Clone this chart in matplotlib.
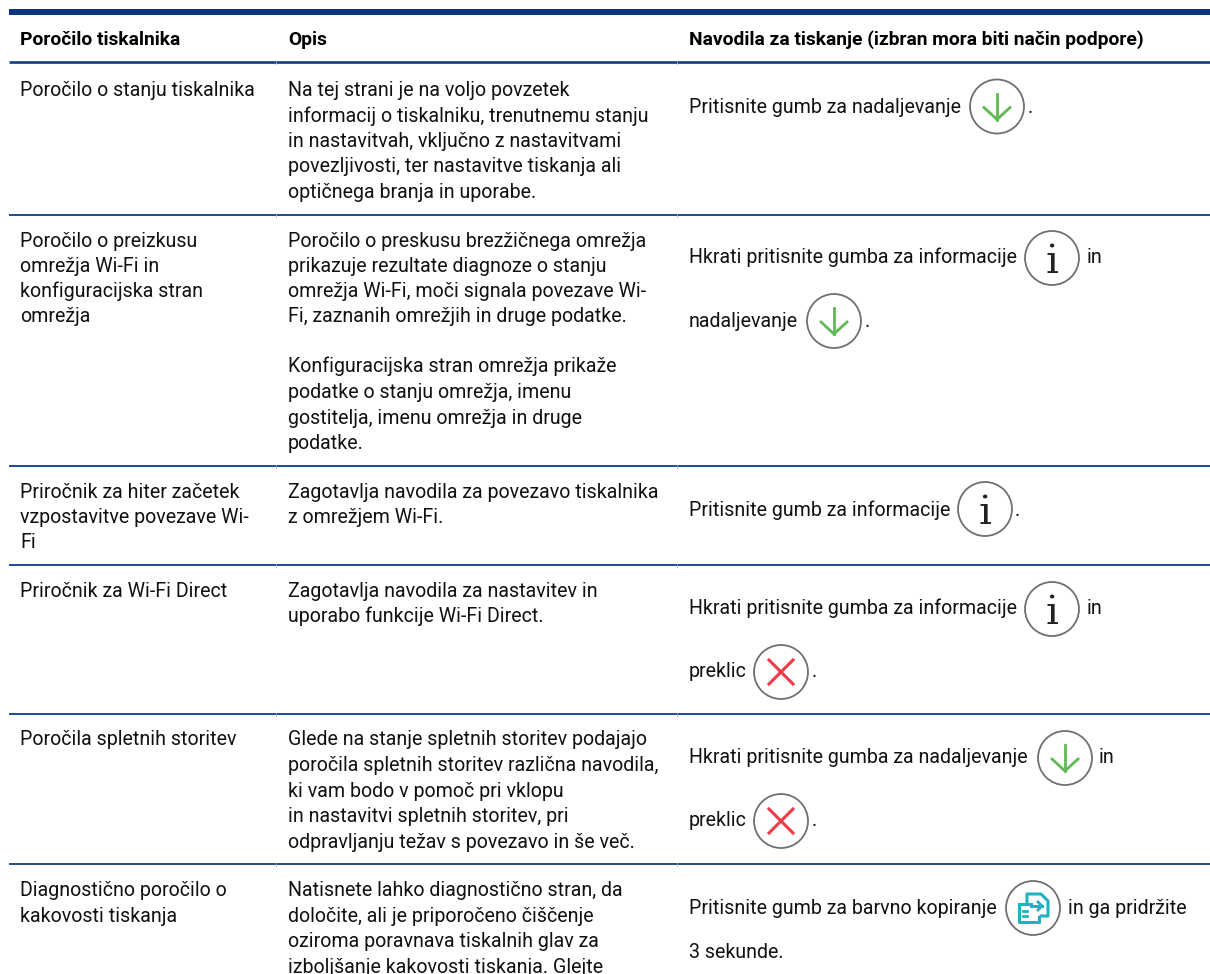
import matplotlib
matplotlib.use('Agg')
import matplotlib.pyplot as plt
from matplotlib.patches import Circle, Rectangle

# besedilo tabele
headers = ["Poročilo tiskalnika", "Opis", "Navodila za tiskanje (izbran mora biti način podpore)"]

col_report = [
    "Poročilo o stanju tiskalnika",
    "Poročilo o preizkusu", "omrežja Wi-Fi in", "konfiguracijska stran", "omrežja",
    "Priročnik za hiter začetek", "vzpostavitve povezave Wi-", "Fi",
    "Priročnik za Wi-Fi Direct",
    "Poročila spletnih storitev",
    "Diagnostično poročilo o", "kakovosti tiskanja",
]
col_report_y = [96, 247, 272, 297, 322, 498, 523, 548, 597, 745, 896, 922]

col_desc = [
    "Na tej strani je na voljo povzetek",
    "informacij o tiskalniku, trenutnemu stanju",
    "in nastavitvah, vključno z nastavitvami",
    "povezljivosti, ter nastavitve tiskanja ali",
    "optičnega branja in uporabe.",
    "Poročilo o preskusu brezžičnega omrežja",
    "prikazuje rezultate diagnoze o stanju",
    "omrežja Wi-Fi, moči signala povezave Wi-",
    "Fi, zaznanih omrežjih in druge podatke.",
    "Konfiguracijska stran omrežja prikaže",
    "podatke o stanju omrežja, imenu",
    "gostitelja, imenu omrežja in druge",
    "podatke.",
    "Zagotavlja navodila za povezavo tiskalnika",
    "z omrežjem Wi-Fi.",
    "Zagotavlja navodila za nastavitev in",
    "uporabo funkcije Wi-Fi Direct.",
    "Glede na stanje spletnih storitev podajajo",
    "poročila spletnih storitev različna navodila,",
    "ki vam bodo v pomoč pri vklopu",
    "in nastavitvi spletnih storitev, pri",
    "odpravljanju težav s povezavo in še več.",
    "Natisnete lahko diagnostično stran, da",
    "določite, ali je priporočeno čiščenje",
    "oziroma poravnava tiskalnih glav za",
    "izboljšanje kakovosti tiskanja. Glejte",
]
col_desc_y = [96, 122, 147, 172, 198, 247, 272, 297, 322, 372, 398, 424, 449,
              498, 523, 597, 622, 745, 771, 797, 822, 848, 896, 922, 947, 973]

col_help = [
    "Pritisnite gumb za nadaljevanje",
    "Hkrati pritisnite gumba za informacije",
    "nadaljevanje",
    "Pritisnite gumb za informacije",
    "Hkrati pritisnite gumba za informacije",
    "preklic",
    "Hkrati pritisnite gumba za nadaljevanje",
    "preklic",
    "Pritisnite gumb za barvno kopiranje",
    "3 sekunde.",
]
col_help_y = [113, 263, 327, 516, 614, 677, 763, 826, 914, 958]

after_icon = [".", "in", ".", ".", "in", ".", "in", ".", "in ga pridržite"]
after_icon_x = [1028, 1087, 865, 1015, 1087, 812, 1099, 812, 1068]
after_icon_y = [113, 263, 327, 516, 614, 677, 763, 826, 914]

icon_kind = ["down", "info", "down", "info", "info", "x", "down", "x", "copy"]
icon_x = [997, 1052, 834, 985, 1052, 781, 1065, 781, 1033]
icon_y = [106.5, 258, 321, 509, 609, 672, 758, 821, 908]

row_lines = [62, 215, 466, 565, 714, 864]

NAVY = '#0f3c85'
FONT = 'Roboto'
SIZE = 14.1

fig = plt.figure(figsize=(12.10, 9.74), dpi=100)
ax = fig.add_axes([0, 0, 1, 1])
ax.set_xlim(0, 1210)
ax.set_ylim(974, 0)
ax.axis('off')


def draw_icon(kind, cx, cy):
    ax.add_patch(Circle((cx, cy), 27, fc='white', ec='#707070', lw=1.3, zorder=2))
    if kind == 'down':
        ax.plot([cx, cx], [cy - 13, cy + 13], color='#5fb955', lw=2, zorder=3)
        ax.plot([cx - 13, cx, cx + 13], [cy + 1, cy + 13, cy + 1], color='#5fb955', lw=2, zorder=3)
    elif kind == 'x':
        ax.plot([cx - 12, cx + 12], [cy - 12, cy + 12], color='#ef3b47', lw=2.2, zorder=3)
        ax.plot([cx - 12, cx + 12], [cy + 12, cy - 12], color='#ef3b47', lw=2.2, zorder=3)
    elif kind == 'info':
        ax.text(cx, cy + 15, 'i', family='DejaVu Serif', fontsize=29, color='#222222',
                ha='center', va='baseline', zorder=3)
    elif kind == 'copy':
        c = '#1fb2c0'
        ax.plot([cx - 6, cx - 6, cx + 8, cx + 15, cx + 15, cx + 8],
                [cy - 4, cy - 14, cy - 14, cy - 7, cy + 8, cy + 8], color=c, lw=2.2, zorder=3)
        ax.plot([cx - 2, cx + 9], [cy - 2, cy - 2], color=c, lw=2.2, zorder=3)
        ax.plot([cx + 5, cx + 9, cx + 5], [cy - 6, cy - 2, cy + 2], color=c, lw=2, zorder=3)
        ax.plot([cx - 14, cx - 14, cx - 5], [cy - 4, cy + 14, cy + 14], color=c, lw=2.2, zorder=3)
        ax.plot([cx - 14, cx - 2], [cy - 4, cy - 4], color=c, lw=2.2, zorder=3)
        ax.plot([cx - 8, cx + 6, cx + 6], [cy + 14, cy + 14, cy + 9], color=c, lw=2.2, zorder=3)
        ax.plot([cx - 10, cx - 6], [cy + 3, cy + 3], color=c, lw=2, zorder=3)
        ax.plot([cx - 10, cx - 6], [cy + 8, cy + 8], color=c, lw=2, zorder=3)


# crte tabele
ax.add_patch(Rectangle((8.5, 8.5), 1201.5, 6, fc='#0b367c', ec='none'))
for y in row_lines:
    ax.plot([8.5, 1210], [y, y], color=NAVY, lw=1.3 if y != 62 else 1.9, solid_capstyle='butt')
for gap in [276, 677]:
    for y in row_lines:
        ax.plot([gap, gap], [y - 1.5, y + 1.5], color='#9db3d4', lw=0.6)

# glava
for x, h in zip([20, 288, 689], headers):
    ax.text(x, 45, h, family=FONT, fontsize=13.9, fontweight='bold', color='black', va='baseline')

for s, y in zip(col_report, col_report_y):
    ax.text(20, y, s, family=FONT, fontsize=SIZE, color='#111111', va='baseline')
for s, y in zip(col_desc, col_desc_y):
    ax.text(288, y, s, family=FONT, fontsize=SIZE, color='#111111', va='baseline')
for s, y in zip(col_help, col_help_y):
    ax.text(689, y, s, family=FONT, fontsize=SIZE, color='#111111', va='baseline')
for s, x, y in zip(after_icon, after_icon_x, after_icon_y):
    ax.text(x, y, s, family=FONT, fontsize=SIZE, color='#111111', va='baseline')

for k, x, y in zip(icon_kind, icon_x, icon_y):
    draw_icon(k, x, y)

fig.savefig('out.png', dpi=100)
